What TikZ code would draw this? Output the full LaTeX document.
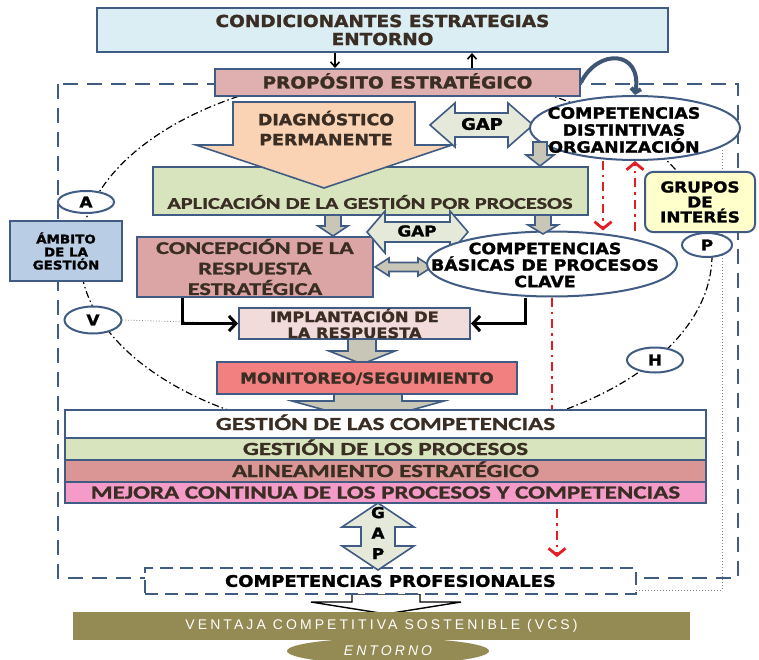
\documentclass[tikz,border=0pt]{standalone}
\usepackage{fontspec}
\usepackage{tikz}
\usetikzlibrary{shapes.geometric,arrows.meta}
\newfontfamily\heavy{DejaVu Sans}[FakeStretch=1.12,BoldFeatures={FakeBold=1.6}]
\newfontfamily\calib{Carlito}[FakeStretch=1.35,BoldFeatures={FakeBold=1.2}]
\newfontfamily\spaced{Liberation Sans}[LetterSpace=22]
\definecolor{bordblue}{RGB}{64,92,132}
\definecolor{inkbrown}{RGB}{58,46,36}
\definecolor{topblue}{RGB}{219,238,244}
\definecolor{propfill}{RGB}{224,176,176}
\definecolor{diagfill}{RGB}{250,210,180}
\definecolor{aplgreen}{RGB}{215,228,189}
\definecolor{concfill}{RGB}{220,165,165}
\definecolor{implfill}{RGB}{242,220,219}
\definecolor{monifill}{RGB}{242,128,128}
\definecolor{alinfill}{RGB}{217,150,148}
\definecolor{mejfill}{RGB}{245,155,200}
\definecolor{gapfill}{RGB}{228,233,218}
\definecolor{grayfill}{RGB}{200,198,182}
\definecolor{ambfill}{RGB}{185,205,229}
\definecolor{grupfill}{RGB}{255,255,204}
\definecolor{vcsolive}{RGB}{148,138,84}
\definecolor{curvecol}{RGB}{62,85,115}
\definecolor{redcol}{RGB}{226,30,36}
\newcommand{\blockdown}[7]{\draw[#1] ({#2-#6},#3) -- ({#2+#6},#3) -- ({#2+#6},#4) -- ({#2+#7},#4) -- (#2,#5) -- ({#2-#7},#4) -- ({#2-#6},#4) -- cycle;}
\newcommand{\blockhoriz}[7]{\draw[#1] (#3,#2) -- ({#3+#5},{#2-#7}) -- ({#3+#5},{#2-#6}) -- ({#4-#5},{#2-#6}) -- ({#4-#5},{#2-#7}) -- (#4,#2) -- ({#4-#5},{#2+#7}) -- ({#4-#5},{#2+#6}) -- ({#3+#5},{#2+#6}) -- ({#3+#5},{#2+#7}) -- cycle;}
\newcommand{\blockvert}[7]{\draw[#1] (#2,#3) -- ({#2+#7},{#3+#5}) -- ({#2+#6},{#3+#5}) -- ({#2+#6},{#4-#5}) -- ({#2+#7},{#4-#5}) -- (#2,#4) -- ({#2-#7},{#4-#5}) -- ({#2-#6},{#4-#5}) -- ({#2-#6},{#3+#5}) -- ({#2-#7},{#3+#5}) -- cycle;}

\begin{document}
\begin{tikzpicture}[x=1pt,y=-1pt,
		boxed/.style={draw=bordblue,line width=2pt,inner sep=0pt,align=center},
		blockline/.style={draw=bordblue,line width=1.6pt,line join=miter},
		hv/.style 2 args={font=\heavy\bfseries\fontsize{#1}{#2}\selectfont},
		cb/.style 2 args={font=\calib\bfseries\fontsize{#1}{#2}\selectfont},
		oval/.style={ellipse,draw=bordblue,line width=2pt,fill=white,inner sep=0pt},
		letter/.style={oval,hv={15}{15},text=black},
		row/.style={boxed,minimum width=641pt,cb={18.5}{20},text=inkbrown,text height=12pt,text depth=0pt},
		ringline/.style={black,line width=1.2pt,dash pattern=on 7pt off 3pt on 1.5pt off 3pt},
		frame/.style={draw=bordblue,line width=2.4pt,dash pattern=on 15pt off 9pt},
		redline/.style={redcol,line width=2.8pt,dash pattern=on 9pt off 5pt on 2.5pt off 5pt,>={Straight Barb[length=7pt,width=17pt]}},
		blackarrow/.style={->,>={Straight Barb[length=7pt,width=15pt]},black,line width=3pt}]
	\useasboundingbox (0,0) rectangle (759,660);
	\fill[white] (0,0) rectangle (759,660);
	\draw[ringline] (396,255) ellipse [x radius=316,y radius=183];
	\draw[frame] (58,84) rectangle (738,578);
	\coordinate (dotstart) at (722,150);
	\coordinate (dotend) at (636,590);
	\draw[gray,dotted,line width=1pt] (dotstart) |- (dotend);
	\coordinate (dnx) at (335,0);
	\coordinate (upx) at (472,0);
	\coordinate (redA) at (603,0);
	\coordinate (redB) at (635,0);
	\coordinate (redC) at (552,0);
	\coordinate (redD) at (557,0);

	\node[boxed,fill=topblue,minimum width=571pt,minimum height=44pt,hv={16.5}{18},text=inkbrown] (cond) at (382.5,30) {CONDICIONANTES ESTRATEGIAS\\ENTORNO};
	\node[boxed,fill=propfill,minimum width=365pt,minimum height=27pt,hv={16.5}{18},text=inkbrown,text height=12pt,text depth=0pt] (prop) at (397.5,82.5) {PROPÓSITO ESTRATÉGICO};
	\draw[->,>={Straight Barb[length=5pt,width=9pt]},line width=1.6pt] (cond.south -| dnx) -- (prop.north -| dnx);
	\draw[->,>={Straight Barb[length=5pt,width=9pt]},line width=1.6pt] (prop.north -| upx) -- (cond.south -| upx);

	\node[boxed,fill=aplgreen,minimum width=435pt,minimum height=48pt] (apl) at (370.5,191) {};
	\node[cb={16.5}{18},text=inkbrown] (apltext) at (370,202) {APLICACIÓN DE LA GESTIÓN POR PROCESOS};
	\blockdown{blockline,fill=diagfill}{324}{102}{145}{188}{91}{128}
	\node[hv={15.5}{20},text=inkbrown,align=center] (diagtext) at (326,128) {DIAGNÓSTICO\\PERMANENTE};
	\blockhoriz{blockline,fill=gapfill}{125}{430}{533}{25}{12}{22}
	\node[hv={16}{16},text=black] (gapone) at (482,124) {GAP};
	\node[oval,minimum width=210pt,minimum height=64pt] (dist) at (635,128) {};
	\node[hv={15.5}{17},text=black,align=center] (disttext) at (624,130) {COMPETENCIAS\\DISTINTIVAS\\ORGANIZACIÓN};
	\draw[->,>={Straight Barb[length=4pt,width=10pt]},curvecol,line width=4pt] (prop.east) .. controls (598,48) and (642,50) .. (dist.north);
	\blockdown{blockline,fill=grayfill}{540}{142}{155}{166}{7}{14}
	\blockdown{blockline,fill=grayfill}{333}{215}{226}{236}{8}{15}

	\node[boxed,fill=ambfill,minimum width=112pt,minimum height=60pt,hv={12}{13},text=black] (ambito) at (66,251) {ÁMBITO\\DE LA\\GESTIÓN};
	\node[letter,minimum width=56pt,minimum height=22pt] (lA) at (86,202) {A};
	\node[letter,minimum width=57pt,minimum height=27pt] (lV) at (93,320) {V};
	\node[letter,minimum width=56pt,minimum height=25pt] (lH) at (655,360) {H};
	\node[letter,minimum width=50pt,minimum height=24pt] (lP) at (707,245) {P};
	\node[boxed,rounded corners=8pt,fill=grupfill,minimum width=110pt,minimum height=60pt,hv={15}{15},text=black] (grupos) at (700,202) {GRUPOS\\DE\\INTERÉS};

	\node[boxed,fill=concfill,minimum width=236pt,minimum height=60pt,cb={18}{20.5},text=inkbrown] (conc) at (255,267) {CONCEPCIÓN DE LA\\RESPUESTA\\ESTRATÉGICA};
	\blockhoriz{blockline,fill=gapfill}{232}{367}{468}{18}{10}{21}
	\node[hv={15}{15},text=black] (gaptwo) at (417,231) {GAP};
	\blockhoriz{blockline,fill=grayfill}{267}{375}{432}{14}{4.5}{9}
	\node[oval,minimum width=250pt,minimum height=65pt] (basicas) at (552,264) {};
	\node[hv={15.5}{16.5},text=black,align=center] (bastext) at (545,265) {COMPETENCIAS\\BÁSICAS DE PROCESOS\\CLAVE};
	\blockdown{blockline,fill=grayfill}{543}{215}{225}{234}{8}{15}

	\node[boxed,fill=implfill,minimum width=231pt,minimum height=31pt,hv={14.5}{16},text=inkbrown] (impl) at (354.5,323.5) {IMPLANTACIÓN DE\\LA RESPUESTA};
	\draw[gray,dotted,line width=0.8pt] (lV.east) -- (impl.west);
	\draw[blackarrow] (conc.south west) ++(46,0) |- (impl.west);
	\draw[blackarrow] (basicas.south) ++(-27,0) |- (impl.east);
	\blockdown{blockline,fill=grayfill}{362}{339}{351}{364}{14}{33}
	\blockdown{blockline,fill=grayfill}{368}{394}{401}{422}{34}{76}
	\node[boxed,fill=monifill,minimum width=300pt,minimum height=32pt,hv={15}{15},text=inkbrown,text height=11pt,text depth=0pt] (moni) at (367,378) {MONITOREO/SEGUIMIENTO};

	\node[row,fill=white,minimum height=28pt] (gcomp) at (385.5,424) {GESTIÓN DE LAS COMPETENCIAS};
	\node[row,fill=aplgreen,minimum height=22pt] (gproc) at (385.5,449) {GESTIÓN DE LOS PROCESOS};
	\node[row,fill=alinfill,minimum height=22pt] (alin) at (385.5,471) {ALINEAMIENTO ESTRATÉGICO};
	\node[row,fill=mejfill,minimum height=21pt] (mejora) at (385.5,492.5) {MEJORA CONTINUA DE LOS PROCESOS Y COMPETENCIAS};

	\blockdown{draw=black,line width=1.4pt,fill=white}{386}{594}{602}{614}{34}{75}
	\node[fill=vcsolive,minimum width=617pt,minimum height=28pt,inner sep=0pt,text=white,font=\spaced\fontsize{14}{14}\selectfont] (vcs) at (381.5,626) {VENTAJA COMPETITIVA SOSTENIBLE (VCS)};
	\node[ellipse,fill=vcsolive,minimum width=202pt,minimum height=26pt,inner sep=0pt,text=white,font=\spaced\itshape\fontsize{14}{14}\selectfont] (entorno) at (388,651) {ENTORNO};
	\node[draw=bordblue,line width=1.8pt,dash pattern=on 13pt off 7pt,fill=white,minimum width=491pt,minimum height=26pt,inner sep=0pt,hv={16}{16},text=black] (prof) at (390.5,581) {COMPETENCIAS PROFESIONALES};
	\blockvert{blockline,fill=gapfill}{378}{503}{570}{24}{17}{36}
	\node[hv={15}{20.5},text=black,align=center] (gapthree) at (378,533) {G\\A\\P};

	\draw[redline,->] (dist.south -| redA) -- (basicas.north -| redA);
	\draw[redline,->] (basicas.north -| redB) -- (dist.south -| redB);
	\draw[redline] (basicas.south -| redC) -- (gcomp.north -| redC);
	\draw[redline,->,shorten <=5pt,shorten >=10pt] (mejora.south -| redD) -- (prof.north -| redD);
\end{tikzpicture}
\end{document}
